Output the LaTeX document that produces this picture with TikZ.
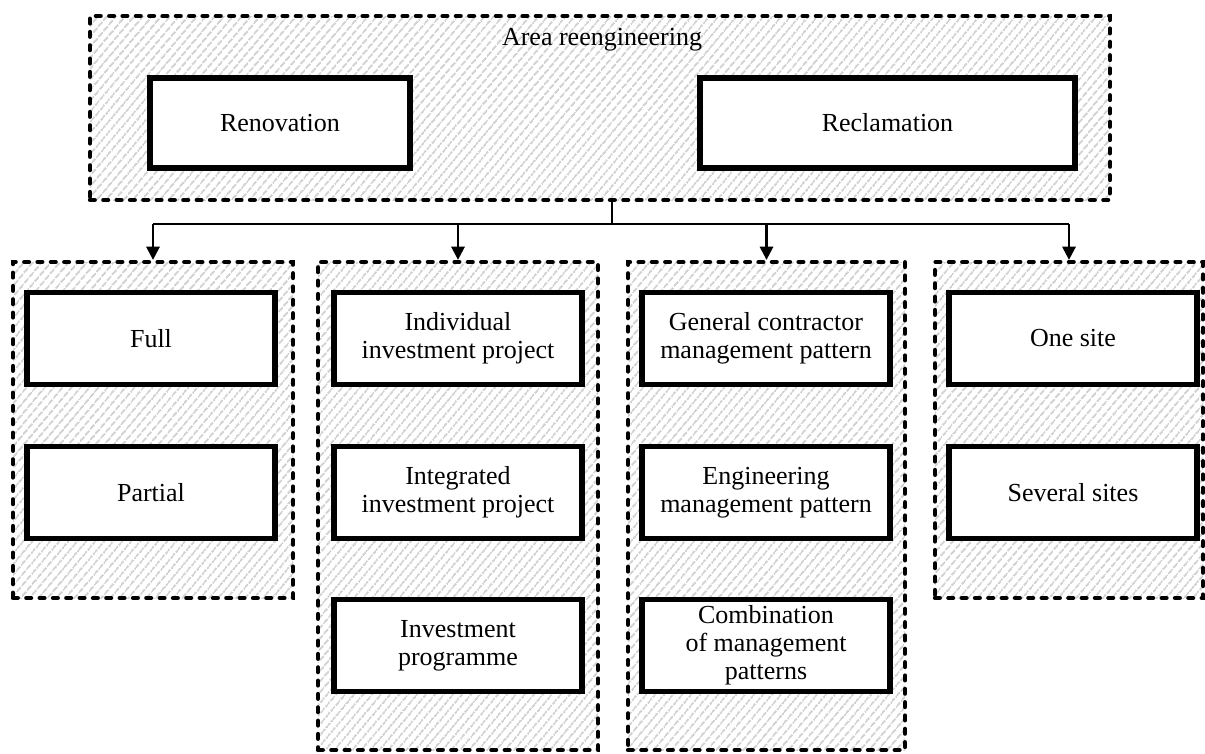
\documentclass[tikz,border=0pt]{standalone}
\usepackage{fontspec}
\setmainfont{Liberation Serif}
\usetikzlibrary{patterns.meta,arrows.meta}
\begin{document}
\begin{tikzpicture}[x=0.75pt,y=-0.75pt,
  every node/.style={font=\fontsize{19.5}{21}\selectfont},
  group/.style={draw=black, line width=3.2pt, line cap=round, dash pattern=on 3.6pt off 6.4pt,
    pattern={Lines[angle=50,distance=5.4pt,line width=1.5pt]}, pattern color=black!18,
    inner sep=0pt},
  itembox/.style={draw=black, line width=4.2pt, fill=white, inner sep=0pt, align=center,
    minimum width=186pt, minimum height=69pt},
  conn/.style={line width=1.8pt},
  arr/.style={line width=1.8pt, -{Triangle[length=10pt,width=10pt]}}]
\useasboundingbox (0,0) rectangle (1205,753);
% top group
\node[group, minimum width=765pt, minimum height=138pt] (top) at (600,108) {};
\node (title) at (602,40) {Area reengineering};
\node[itembox, minimum width=195pt, minimum height=67.5pt] (ren) at (280,123) {Renovation};
\node[itembox, minimum width=281pt, minimum height=67.5pt] (rec) at (887.5,123) {Reclamation};
% lower groups
\node[group, minimum width=210pt, minimum height=252pt] (g1) at (153,430) {};
\node[group, minimum width=210pt, minimum height=366pt] (g2) at (458,506) {};
\node[group, minimum width=207.75pt, minimum height=366pt] (g3) at (766.5,506) {};
\node[group, minimum width=201pt, minimum height=252pt] (g4) at (1069,430) {};
% column 1
\node[itembox] (full) at (151,338.5) {Full};
\node[itembox] (partial) at (151,492.5) {Partial};
% column 2
\node[itembox] (indiv) at (458,338.5) {Individual\\investment project};
\node[itembox] (integ) at (458,492.5) {Integrated\\investment project};
\node[itembox] (prog) at (458,645.5) {Investment\\programme};
% column 3
\node[itembox] (gen) at (766,338.5) {General contractor\\management pattern};
\node[itembox] (eng) at (766,492.5) {Engineering\\management pattern};
\node[itembox] (comb) at (766,645.5) {Combination\\of management\\patterns};
% column 4
\node[itembox] (one) at (1073,338.5) {One site};
\node[itembox] (sev) at (1073,492.5) {Several sites};
% connectors
\coordinate (j) at (612,224);
\draw[conn] (top.south -| j) -- (j);
\draw[conn] (g1.north |- j) -- (g4.north |- j);
\draw[arr] (g1.north |- j) -- (g1.north);
\draw[arr] (g2.north |- j) -- (g2.north);
\draw[arr] (g3.north |- j) -- (g3.north);
\draw[arr] (g4.north |- j) -- (g4.north);
\end{tikzpicture}
\end{document}
